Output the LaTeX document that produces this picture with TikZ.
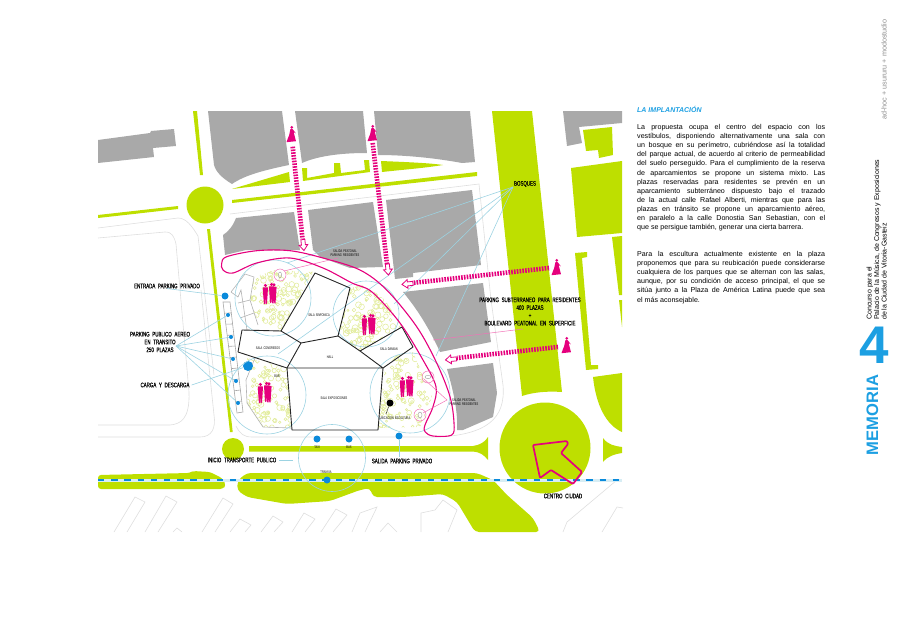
\documentclass[tikz,border=0pt]{standalone}
\usepackage{fontspec}
\setmainfont{Liberation Sans}
\newfontfamily\rotulofont[FakeStretch=0.67,WordSpace=2.2,FakeBold=0.08]{Liberation Sans}
\newfontfamily\minifont[FakeStretch=0.67,WordSpace=1.6]{Liberation Sans}
\usetikzlibrary{calc,positioning}

\definecolor{verde}{HTML}{BEDF00}
\definecolor{gris}{HTML}{A9A9A9}
\definecolor{rosa}{HTML}{E5007D}
\definecolor{azul}{HTML}{0A8ADB}
\definecolor{celeste}{HTML}{9CD3E2}
\definecolor{burbuja}{HTML}{E2EC9C}
\definecolor{trazo}{HTML}{DEDEDE}
\definecolor{titulo}{HTML}{1C9FE2}

\tikzset{
  zona/.style={fill=verde,draw=none},
  bloque/.style={fill=gris,draw=none},
  linde/.style={draw=trazo,line width=.6pt},
  sala/.style={draw=black!85,line width=.9pt,line join=round},
  guia/.style={draw=celeste,line width=.6pt},
  guiarosa/.style={draw=rosa!55,line width=.5pt},
  paso/.style={draw=rosa,line width=4.6pt,dash pattern=on 1.6pt off 1.2pt},
  punto/.style={circle,fill=azul,inner sep=0pt},
  rotulo/.style={inner sep=0pt,align=center,font=\rotulofont\fontsize{6.6}{7.8}\selectfont},
  mini/.style={inner sep=0pt,align=center,font=\minifont\fontsize{3.8}{4.4}\selectfont},
}

% figures and garden texture
\newcommand{\persona}[2]{%
  \fill[rosa] (#1,#2-8.6) circle (1.7);
  \fill[rosa,rounded corners=.5pt] (#1-2.6,#2-6.6) -- (#1+2.6,#2-6.6) -- (#1+2.1,#2+2) -- (#1+1.5,#2+10) -- (#1+.3,#2+10) -- (#1,#2+3) -- (#1-.4,#2+10) -- (#1-1.5,#2+10) -- (#1-2.1,#2+2) -- cycle;}
\newcommand{\grupo}[2]{\persona{#1-4.6}{#2}\persona{#1+1.6}{#2-1}\persona{#1+4}{#2-.5}}
\newcommand{\caminante}[2]{%
  \fill[rosa] (#1+.8,#2-6.6) circle (1.5);
  \fill[rosa,rounded corners=.4pt] (#1-.6,#2-5) -- (#1+1.6,#2-5) -- (#1+5,#2-.5) -- (#1+2.6,#2-2) -- (#1+5,#2+7.2) -- (#1-4.6,#2+8.2) -- (#1-1.8,#2+1) -- cycle;}
\newcommand{\puntaflecha}[3]{%
  \draw[rosa,fill=white,line width=.8pt,shift={(#1,#2)},rotate=#3] (-11,-2) -- (-5.6,-2) -- (-5.6,-4.4) -- (0,0) -- (-5.6,4.4) -- (-5.6,2) -- (-11,2) -- cycle;}
\newcommand{\jardin}[4]{%
  \begin{scope}
    \clip #1;
    \foreach \n in {1,...,190}
      \draw[burbuja,line width=.55pt] ({#2+#4*rand},{#3+#4*rand}) circle [radius={.9+2.1*rnd}];
  \end{scope}}

\begin{document}
\begin{tikzpicture}[x=1pt,y=-1pt]
  \useasboundingbox (0,0) rectangle (900,637);
  \pgfmathsetseed{41}

  % thin site lines
  \draw[linde] (98,228) -- (178,218) .. controls (186,218) and (192,226) .. (198,236) -- (214,375);
  \draw[linde] (98,238) -- (165,232) .. controls (172,232) and (174,236) .. (176,244) -- (189,392) .. controls (190,420) and (180,424) .. (170,425) -- (98,425);
  \draw[linde] (98,437) -- (200,437) .. controls (212,437) and (216,428) .. (214,415) -- (201,290);
  \draw[linde] (236,426) .. controls (240,434) and (244,437) .. (252,437) -- (440,437) .. controls (485,434) and (506,420) .. (503,385) -- (491,300) -- (479,184) -- (230,214);
  \draw[linde] (114,532) -- (135,497) -- (145,502) -- (127,532);
  \draw[linde] (145,532) -- (166,496) -- (177,502) -- (158,532);
  \draw[linde] (173,532) -- (177,528) -- (182,532);
  \draw[linde] (202,532) -- (223,498) -- (233,504) -- (215,532);
  \draw[linde] (230,532) -- (240,519) -- (251,525) -- (245,532);
  \draw[linde] (261,532) -- (273,516) -- (283,522) -- (274,532);
  \draw[linde] (292,532) -- (304,513) -- (315,519) -- (305,532);
  \draw[linde] (321,532) -- (336,509) -- (347,515) -- (333,532);
  \draw[linde] (352,532) -- (360,513) -- (377,507) -- (365,532);
  \draw[linde] (380,532) -- (388,523) -- (397,532);
  \draw[linde] (421,532) -- (421,513) -- (435,510) -- (443,500) -- (457,510) -- (448,532);
  \draw[linde] (563,532) -- (567,522) -- (617,480);
  \draw[linde] (602,532) -- (617,507) -- (623,508);

  % grey city blocks
  \fill[bloque] (98,140) -- (150,133) -- (151,131) -- (174,129) -- (176,146) -- (153,148) -- (154,157) -- (98,163) -- cycle;
  \fill[bloque] (208,111) -- (282,111) -- (289,165) .. controls (265,170) and (245,175) .. (232,184) .. controls (222,178) and (216,172) .. (214,165) -- cycle;
  \fill[bloque] (295,111) -- (363,111) -- (367,153) .. controls (345,153) and (320,155) .. (302,163) -- cycle;
  \fill[bloque] (374,111) -- (470,111) -- (475,162) -- (462,163) .. controls (435,158) and (405,155) .. (378,155) -- cycle;
  \fill[bloque] (236,218) -- (294,212) -- (300,250) -- (246,250) -- (225,255) -- (223,235) .. controls (228,232) and (233,226) .. (236,218) -- cycle;
  \fill[bloque] (308,210) -- (373,202) -- (383,267) -- (350,268) -- (320,257) -- (313,250) -- cycle;
  \fill[bloque] (386,200) -- (472,190) -- (481,265) -- (413,273) -- (413,277) -- (395,279) -- cycle;
  \fill[bloque] (403,292) -- (483,283) -- (491,342) -- (440,352) .. controls (430,330) and (418,310) .. (403,292) -- cycle;
  \fill[bloque] (447,369) -- (493,363) -- (497,393) -- (493,417) -- (463,430) -- (457,430) .. controls (458,410) and (453,390) .. (447,369) -- cycle;
  \fill[bloque] (563,111) -- (622,111) -- (622,123) -- (579,127) -- (582,143) -- (567,146) -- cycle;

  % green areas
  \fill[zona] (193,111) -- (197,111) -- (203,175) -- (200,175) -- cycle;
  \fill[zona] (98,215) -- (178,206) -- (178,209) -- (98,218) -- cycle;
  \fill[zona] (207,229) -- (210,229) -- (232.7,432) -- (230,432) -- cycle;
  \fill[zona] (205,205) circle (18.5);
  \fill[zona] (232,189) -- (289,172) -- (290,182) -- cycle;
  \fill[zona] (232,200) -- (477,172) -- (477,176) -- (232,203) -- cycle;
  \fill[zona] (302,168) -- (307,168) -- (307,178) -- (334,173) -- (334,163) -- (340,163) -- (341,173) -- (365,170) -- (364,160) -- (369,160) -- (370,172) -- (303,181) -- cycle;
  \fill[zona] (381,161) .. controls (405,162) and (430,163) .. (443,165) .. controls (425,168) and (400,170) .. (382,172) -- cycle;
  \fill[zona] (492,111) -- (532,111) -- (562,392) .. controls (548,391) and (534,392) .. (522,396) -- cycle;
  \fill[zona] (583,130) -- (612,127) -- (613,155) -- (599,158) -- (598,150) -- (586,151) -- cycle;
  \fill[zona] (571,168) -- (622,161) -- (622,233) -- (577,237) -- cycle;
  \fill[zona] (612,237) -- (622,236) -- (622,295) -- (619,295) -- cycle;
  \fill[zona] (619,300) -- (622,300) -- (622,327) -- cycle;
  \fill[zona] (575,253) -- (587,252) -- (587,257) -- (582,258) -- (591,365) -- (598,365) -- (598,369) -- (586,370) -- cycle;
  \fill[zona] (593,377) -- (622,373) -- (622,432) .. controls (606,425) and (596,405) .. (593,377) -- cycle;
  \fill[zona] (603,438) .. controls (608,445) and (615,446) .. (622,447) -- (622,453) .. controls (615,454) and (608,456) .. (603,462) -- cycle;
  \fill[zona] (545,448) circle (45.5);
  \fill[zona] (233,449) circle (11);
  \fill[zona] (249,446) -- (473,446) .. controls (480,445) and (485,442) .. (488,437) -- (488,460) .. controls (484,455) and (480,452) .. (473,451.5) -- (249,451.5) -- cycle;
  \fill[zona,rounded corners=3pt] (98,475) -- (190,473) -- (193,471) -- (210,472) -- (222,478) -- (226,485) -- (223,489) -- (98,489) -- cycle;
  \fill[zona,rounded corners=4pt] (237,490) -- (238,480) -- (247,473) -- (477,473) -- (493,480) -- (507,495) -- (533,518) -- (540,532) -- (475,532) -- (457,502) -- (443,494) -- (403,497) -- (373,497) -- (370,488) -- (360,490) -- (330,501) -- (287,504) -- (247,497) -- cycle;

  % tram line
  \draw[celeste!40,line width=3pt] (98,480) -- (622,480);
  \draw[azul,line width=2.6pt,dash pattern=on 6.4pt off 6.8pt] (98,480) -- (622,480);

  % gardens
  \jardin{(254,277) -- (275,270) -- (313,272) -- (281,331) -- (258,322) -- (250,300) -- cycle}{280}{300}{36}
  \jardin{(350,288) -- (338,336) -- (360,351) -- (402,327) -- (385,300) -- (365,285) -- cycle}{370}{318}{36}
  \jardin{(247,358) -- (287,368) -- (291,428) -- (263,427) -- (247,403) -- (250,375) -- cycle}{269}{393}{37}
  \jardin{(385,368) -- (397,355) -- (413,352) -- (432,397) -- (420,427) -- (378,428) -- cycle}{405}{391}{38}

  % parking strip
  \draw[linde,draw=black!35] (223,302) -- (230,302) -- (243,412) -- (237,413) -- cycle;
  \foreach \t in {.1,.2,...,.95}
    \draw[linde,draw=black!35] ($(223,302)!\t!(237,413)$) -- ($(230,302)!\t!(243,412)$);
  \draw[linde,draw=black!30] (231,292) -- (245,274) -- (254,277) -- (250,300) -- (258,325);
  \draw[linde,draw=black!30] (231,292) -- (238,297) -- (241,290) -- (247,330);
  \draw[linde,draw=black!30] (238,303) -- (250,300) (240,318) -- (254,313);
  \draw[linde,draw=black!30] (255,358) -- (246,380) -- (247,403) -- (263,427) -- (291,428);

  % named points
  \node[punto,minimum size=7pt] (entrada) at (225,296) {};
  \node[punto,minimum size=4pt] (aereouno) at (228,315) {};
  \node[punto,minimum size=4pt] (aereodos) at (231,337) {};
  \node[punto,minimum size=4pt] (aereotres) at (233,359) {};
  \node[punto,minimum size=4pt] (aereocuatro) at (236,381) {};
  \node[punto,minimum size=4pt] (aereocinco) at (238,403) {};
  \node[punto,minimum size=10pt] (carga) at (248,366) {};
  \node[punto,minimum size=7pt] (taxi) at (317,439) {};
  \node[punto,minimum size=7pt] (bus) at (349,439) {};
  \node[punto,minimum size=7pt] (tranvia) at (327,480) {};
  \node[punto,minimum size=7pt] (salida) at (399,436) {};
  \node[circle,fill=black,inner sep=0pt,minimum size=7pt] (escultura) at (390,403) {};

  % big labels
  \node[rotulo] (bosques) at (525,184) {BOSQUES};
  \node[rotulo] (rentrada) at (167,286) {ENTRADA PARKING PRIVADO};
  \node[rotulo] (raereo) at (160,342) {PARKING PUBLICO AEREO\\EN TRANSITO\\250 PLAZAS};
  \node[rotulo] (rcarga) at (165,385) {CARGA Y DESCARGA};
  \node[rotulo] (rinicio) at (242,460) {INICIO TRANSPORTE PUBLICO};
  \node[rotulo] (rsalida) at (402,461) {SALIDA PARKING PRIVADO};
  \node[rotulo] (rcentro) at (563,496) {CENTRO CIUDAD};
  \node[rotulo] (rsubte) at (530,311.5) {PARKING SUBTERRANEO PARA RESIDENTES\\400 PLAZAS\\+\\BOULEVARD PEATONAL EN SUPERFICIE};

  % blue circles
  \draw[guia] (273,298) circle (38);
  \draw[guia] (366,314) circle (33);
  \draw[guia] (267,395) circle (39);
  \draw[guia] (410,393) circle (40);
  \draw[guia] (332,458) circle (33.5);

  % leaders
  \coordinate (bosqueuno) at (287,263);
  \coordinate (bosquedos) at (278,354);
  \coordinate (bosquetres) at (394,304);
  \coordinate (bosquecuatro) at (436,356);
  \foreach \b in {bosqueuno,bosquedos,bosquetres,bosquecuatro}
    \draw[guia] (513,187) -- (\b);
  \draw[guia] (rentrada.south) -- (entrada);
  \coordinate (abanico) at (176,346);
  \foreach \a in {aereouno,aereodos,aereotres,aereocuatro,aereocinco}
    \draw[guia] (abanico) -- (\a);
  \draw[guia] (rcarga.east) ++(2,0) -- (carga);
  \draw[guia] (rinicio.east) ++(3,0) -- ++(14,0);
  \draw[guia] (salida) -- (399,457);

  % halls
  \draw[sala] (315,273) -- (350,288) -- (338,336) -- (301,343) -- (281,331) -- cycle;
  \draw[sala] (281,331) -- (242,330) -- (238,352) -- (287,368) -- (301,343);
  \draw[sala] (338,336) -- (360,351) -- (383,368) -- (287,368);
  \draw[sala] (360,351) -- (402,327) -- (413,347) -- (383,368);
  \draw[sala] (287,368) -- (292,430) -- (378,430) -- (383,368);
  \draw[black!85,line width=.4pt] (escultura) -- (386,414);

  % people
  \grupo{270}{294}
  \grupo{369}{325}
  \grupo{265}{393}
  \grupo{407}{387}

  % pink access loop
  \draw[rosa,line width=1.1pt] plot[smooth cycle,tension=.55] coordinates {(221.7,263.3) (226.7,256.7) (256.7,250.7) (290,250.7) (323,258) (360,270) (386.7,290) (416.7,326.7) (436.7,363) (450,396.7) (454,423) (451.7,435) (433,436) (425,431.7) (425,425) (433,406.7) (436,386.7) (423,360) (400,323) (372,292) (352,283) (323,268) (290,258) (256.7,263) (233,273) (223,270)};
  \draw[guiarosa] (338,258) -- (284,271);
  \draw[guiarosa] (424,379) -- (447,400) -- (423,413);
  \draw[guiarosa] (523,329) -- (433,340);
  \draw[guiarosa] (280,275) circle (6);
  \draw[guiarosa] (428,377) circle (6);
  \draw[guiarosa] (420,415) circle (6);
  \draw[black!40,line width=.4pt] (280,275) ellipse (1.6 and 3);
  \draw[black!40,line width=.4pt] (428,377) ellipse (3 and 1.6);
  \draw[black!40,line width=.4pt] (420,415) ellipse (2 and 3);

  % walkers and dashed arrows
  \coordinate (pasoa) at (292.7,146.7);
  \coordinate (pasob) at (302.5,239);
  \coordinate (pasoc) at (372.7,143);
  \coordinate (pasod) at (387,264);
  \coordinate (pasoe) at (549,268);
  \coordinate (pasof) at (412,283);
  \coordinate (pasog) at (558,347);
  \coordinate (pasoh) at (457,358);
  \draw[paso] (pasoa) -- (pasob);
  \draw[paso] (pasoc) -- (pasod);
  \draw[paso] (pasoe) -- (pasof);
  \draw[paso] (pasog) -- (pasoh);
  \puntaflecha{304}{250.5}{-84}
  \puntaflecha{388.5}{275}{-84}
  \puntaflecha{402}{284.5}{186}
  \puntaflecha{445.5}{360}{186}
  \caminante{291}{134}
  \caminante{372}{133}
  \caminante{556}{267}
  \caminante{566}{345}

  % big arrow on the roundabout
  \draw[rosa,line width=1.7pt,line join=round,rounded corners=1pt] (533,445) -- (567,441) -- (568,444) -- (561,453) -- (582,472) -- (573,484) -- (551,470) -- (540,478) -- cycle;

  % small labels
  \node[mini] (lsinfonica) at (319,315) {SALA SINFONICA};
  \node[mini] (lcongresos) at (268,348) {SALA CONGRESOS};
  \node[mini] (lhall) at (330,357) {HALL};
  \node[mini] (ldamian) at (389,349) {SALA DAMIAN};
  \node[mini] (lexpo) at (334,398) {SALA EXPOSICIONES};
  \node[mini] (lbar) at (277,376) {BAR};
  \node[mini] (ltaxi) at (317,447) {TAXI};
  \node[mini] (lbus) at (349,447) {BUS};
  \node[mini] (ltranvia) at (326,472) {TRANVIA};
  \node[mini] (lsalidauno) at (345,253) {SALIDA PEATONAL\\PARKING RESIDENTES};
  \node[mini] (lsalidados) at (464,402) {SALIDA PEATONAL\\PARKING RESIDENTES};
  \node[mini] (lescultura) at (395,418) {UBICACION ESCULTURA};

  % text column
  \node[anchor=west,inner sep=0pt,text=titulo,font=\bfseries\itshape\fontsize{7}{9}\selectfont] (ltitulo) at (637,109) {LA IMPLANTACIÓN};
  \node[anchor=north west,inner sep=0pt,text width=188pt,align=justify,font=\frenchspacing\fontsize{7.1}{9.15}\selectfont] (parrafouno) at (637,124) {La propuesta ocupa el centro del espacio con los\linebreak
    vestíbulos, disponiendo alternativamente una sala con\linebreak
    un bosque en su perímetro, cubriéndose así la totalidad\linebreak
    del parque actual, de acuerdo al criterio de permeabilidad\linebreak
    del suelo perseguido. Para el cumplimiento de la reserva\linebreak
    de aparcamientos se propone un sistema mixto. Las\linebreak
    plazas reservadas para residentes se prevén en un\linebreak
    aparcamiento subterráneo dispuesto bajo el trazado\linebreak
    de la actual calle Rafael Alberti, mientras que para las\linebreak
    plazas en tránsito se propone un aparcamiento aéreo,\linebreak
    en paralelo a la calle Donostia San Sebastian, con el\linebreak
    que se persigue también, generar una cierta barrera.\par};
  \node[anchor=north west,inner sep=0pt,text width=188pt,align=justify,font=\frenchspacing\fontsize{7.1}{9.15}\selectfont] (parrafodos) at (637,251) {Para la escultura actualmente existente en la plaza\linebreak
    proponemos que para su reubicación puede considerarse\linebreak
    cualquiera de los parques que se alternan con las salas,\linebreak
    aunque, por su condición de acceso principal, el que se\linebreak
    sitúa junto a la Plaza de América Latina puede que sea\linebreak
    el más aconsejable.\par};

  % side strip
  \node[rotate=90,anchor=south west,inner sep=0pt,align=left,font=\fontsize{7}{7.6}\selectfont] (concurso) at (887,320) {Concurso para el\\Palacio de la Música, de Congresos y Exposiciones\\de la Ciudad de Vitoria-Gasteiz};
  \node[rotate=90,anchor=south west,inner sep=0pt,text=black!45,font=\fontsize{7.2}{8}\selectfont] (autores) at (887,120) {ad-hoc + usururu + modostudio};
  \node[inner sep=0pt,text=titulo,font=\bfseries\fontsize{53}{53}\selectfont] (cuatro) at (874,345) {4};
  \node[rotate=90,inner sep=0pt,text=titulo,font=\bfseries\fontsize{16.6}{17}\selectfont] (memoria) at (872.5,415) {MEMORIA};
\end{tikzpicture}
\end{document}
